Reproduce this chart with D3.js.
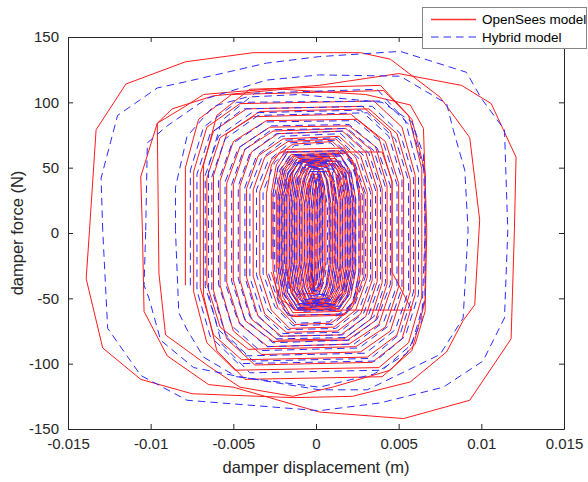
<!DOCTYPE html>
<html>
<head>
<meta charset="utf-8">
<script src="https://cdn.jsdelivr.net/npm/d3@7"></script>
<style>
  html, body { margin: 0; padding: 0; background: #fff; }
  svg { display: block; font-family: "Liberation Sans", Arial, sans-serif; }
</style>
</head>
<body>
<svg id="chart" width="588" height="482"></svg>
<script>
// Axis ticks
const xTicks = [-0.015, -0.01, -0.005, 0, 0.005, 0.01, 0.015];
const xTickLabels = ["-0.015", "-0.01", "-0.005", "0", "0.005", "0.01", "0.015"];
const yTicks = [-150, -100, -50, 0, 50, 100, 150];
const yTickLabels = ["-150", "-100", "-50", "0", "50", "100", "150"];

const seriesNames = ["OpenSees model", "Hybrid model"];

// Damper response, [displacement (m), force (N)]
// Large single cycles (closed loops)
const openseesOuterLoops = [
  [[-0.0137,2],[-0.0133,79],[-0.0115,114],[-0.0079,131],[-0.0038,138],[0.0027,138],[0.0045,133],[0.0075,104],[0.0093,73],[0.0099,10],
   [0.0096,-55],[0.0089,-67],[0.0079,-91],[0.0057,-114],[0.0022,-125],[-0.0014,-126],[-0.0075,-123],[-0.0106,-112],[-0.0129,-88],[-0.0139,-35],[-0.0137,2]],
  [[-0.0105,2],[-0.0106,43],[-0.0096,84],[-0.0079,97],[-0.0068,106],[-0.0050,108],[0.0002,113],[0.0050,122],[0.0088,113],[0.0106,99],[0.0121,58],[0.0120,2],
   [0.0118,-81],[0.0093,-128],[0.0053,-142],[0.0002,-137],[-0.0050,-118],[-0.0065,-116],[-0.0090,-94],[-0.0104,-60],[-0.0105,2]],
  [[-0.0095,-31],[-0.0096,84],[-0.0087,95],[-0.0062,105],[-0.0020,110],[0.0030,106],[0.0057,98],[0.0065,80],[0.0067,2],[0.0066,-60],[0.0060,-85],
   [0.0045,-105],[0.0010,-118],[-0.0014,-125],[-0.0046,-118],[-0.0066,-101],[-0.0091,-78],[-0.0095,-31]]
];

// Mid-amplitude cycles (continuous trace)
const openseesMid = [
  [-0.0079,-40],[-0.0079,50],[-0.0071,87],[-0.0051,106],[0.0041,109],[0.0058,87],[0.0066,47],
  [0.0066,-52],[0.0058,-90],[0.0040,-110],[-0.0043,-112],[-0.0060,-90],[-0.0068,-48],
  [-0.0068,52],[-0.0060,90],[-0.0040,110],[0.0039,113],[0.0056,90],[0.0064,49],
  [0.0064,-49],[0.0056,-84],[0.0038,-103],[-0.0049,-105],[-0.0066,-84],[-0.0074,-45],
  [-0.0074,47],[-0.0066,81],[-0.0046,99],[0.0035,101],[0.0052,81],[0.0060,44],
  [0.0060,-47],[0.0052,-81],[0.0034,-99],[-0.0037,-101],[-0.0054,-81],[-0.0062,-44],
  [-0.0062,44],[-0.0054,76],[-0.0034,93],[0.0032,95],[0.0049,76],[0.0057,41],
  [0.0057,-45],[0.0049,-78],[0.0031,-95],[-0.0045,-97],[-0.0062,-78],[-0.0070,-42],
  [-0.0070,45],[-0.0062,78],[-0.0042,95],[0.0028,97],[0.0045,78],[0.0053,42],
  [0.0053,-43],[0.0045,-75],[0.0027,-91],[-0.0033,-93],[-0.0050,-75],[-0.0058,-40],
  [-0.0058,40],[-0.0050,70],[-0.0030,86],[0.0025,87],[0.0042,70],[0.0050,38],
  [0.0050,-41],[0.0042,-72],[0.0024,-87],[-0.0041,-89],[-0.0058,-72],[-0.0066,-39],
  [-0.0066,42],[-0.0058,73],[-0.0038,89],[0.0021,91],[0.0038,73],[0.0046,39],
  [0.0046,-40],[0.0038,-70],[0.0020,-85],[-0.0029,-87],[-0.0046,-70],[-0.0054,-38],
  [-0.0054,38],[-0.0046,66],[-0.0028,81],[0.0020,82],[0.0036,66],[0.0043,36],
  [0.0043,-39],[0.0036,-67],[0.0019,-82],[-0.0026,-83],[-0.0043,-67],[-0.0050,-36],
  [-0.0050,37],[-0.0043,64],[-0.0026,78],[0.0018,80],[0.0033,64],[0.0040,34],
  [0.0040,-38],[0.0033,-66],[0.0017,-81],[-0.0023,-82],[-0.0039,-66],[-0.0046,-36],
  [-0.0046,36],[-0.0039,62],[-0.0023,76],[0.0016,78],[0.0030,62],[0.0037,34],
  [0.0037,-37],[0.0030,-64],[0.0015,-78],[-0.0021,-79],[-0.0035,-64],[-0.0042,-34],
  [-0.0042,34],[-0.0035,59],[-0.0020,72],[0.0014,74],[0.0027,59],[0.0034,32],
  [0.0034,-36],[0.0027,-62],[0.0013,-75],[-0.0018,-76],[-0.0031,-62],[-0.0038,-33],
  [-0.0038,33],[-0.0031,58],[-0.0017,70],[0.0012,72],[0.0024,58],[0.0031,31],
  [0.0031,-34],[0.0024,-59],[0.0011,-72],[-0.0016,-73],[-0.0027,-59],[-0.0034,-32],
  [-0.0034,32],[-0.0027,56],[-0.0014,68],[0.0010,70],[0.0022,56],[0.0029,30],
  [0.0029,-33],[0.0022,-57],[0.0009,-69],[-0.0013,-70],[-0.0023,-57],[-0.0030,-31],
  [-0.0030,30],[-0.0027,52],[-0.0022,62],[0.0040,62],[0.0046,40],[0.0046,-30],
  [0.0058,-59],[-0.0012,-59],[-0.0022,-50],[-0.0027,-30]
];

// Small-amplitude cycles (continuous trace)
const openseesCore = [
  [-0.0027,-20],[-0.0027,31],[-0.0024,52],[-0.0018,64],[0.0017,65],[0.0023,52],[0.0026,29],
  [0.0026,-30],[0.0023,-51],[0.0017,-63],[-0.0015,-64],[-0.0021,-51],[-0.0024,-28],
  [-0.0024,29],[-0.0021,49],[-0.0015,60],[0.0018,61],[0.0024,49],[0.0027,27],
  [0.0027,-30],[0.0024,-50],[0.0018,-62],[-0.0017,-63],[-0.0023,-50],[-0.0026,-28],
  [-0.0026,30],[-0.0023,50],[-0.0017,62],[0.0013,63],[0.0019,50],[0.0022,28],
  [0.0022,-28],[0.0019,-47],[0.0013,-58],[-0.0012,-59],[-0.0018,-47],[-0.0021,-26],
  [-0.0021,28],[-0.0018,47],[-0.0012,58],[0.0015,59],[0.0021,47],[0.0024,26],
  [0.0024,-29],[0.0021,-49],[0.0015,-60],[-0.0014,-61],[-0.0020,-49],[-0.0023,-27],
  [-0.0023,28],[-0.0020,48],[-0.0014,59],[0.0010,60],[0.0016,48],[0.0019,26],
  [0.0019,-27],[0.0016,-46],[0.0010,-56],[-0.0009,-57],[-0.0015,-46],[-0.0018,-25],
  [-0.0018,27],[-0.0015,46],[-0.0009,56],[0.0012,57],[0.0018,46],[0.0021,25],
  [0.0021,-27],[0.0018,-46],[0.0012,-57],[-0.0011,-58],[-0.0017,-46],[-0.0020,-26],
  [-0.0020,27],[-0.0017,46],[-0.0011,57],[0.0008,58],[0.0014,46],[0.0017,26],
  [0.0017,-26],[0.0015,-44],[0.0010,-55],[-0.0010,-55],[-0.0013,-44],[-0.0015,-24],
  [-0.0015,26],[-0.0013,44],[-0.0008,55],[0.0011,55],[0.0016,44],[0.0018,24],
  [0.0018,-27],[0.0016,-45],[0.0011,-55],[-0.0010,-56],[-0.0015,-45],[-0.0017,-25],
  [-0.0017,27],[-0.0015,45],[-0.0010,55],[0.0007,56],[0.0012,45],[0.0014,25],
  [0.0014,-25],[0.0012,-43],[0.0008,-53],[-0.0006,-53],[-0.0010,-43],[-0.0012,-24],
  [-0.0012,25],[-0.0010,43],[-0.0006,53],[0.0009,53],[0.0013,43],[0.0015,24],
  [0.0015,-26],[0.0013,-43],[0.0009,-54],[-0.0008,-54],[-0.0012,-43],[-0.0014,-24],
  [-0.0014,26],[-0.0012,43],[-0.0008,54],[0.0005,54],[0.0009,43],[0.0011,24],
  [0.0011,-24],[0.0009,-41],[0.0006,-51],[-0.0004,-51],[-0.0007,-41],[-0.0009,-23],
  [-0.0009,24],[-0.0007,41],[-0.0004,51],[0.0007,51],[0.0010,41],[0.0012,23],
  [0.0012,-25],[0.0010,-42],[0.0007,-52],[-0.0006,-52],[-0.0009,-42],[-0.0011,-23],
  [-0.0011,25],[-0.0009,42],[-0.0006,52],[0.0003,52],[0.0006,42],[0.0008,23],
  [0.0008,-23],[0.0006,-40],[0.0003,-49],[-0.0001,-49],[-0.0004,-40],[-0.0006,-22],
  [-0.0006,23],[-0.0004,40],[-0.0001,49],[0.0004,49],[0.0007,40],[0.0009,22],
  [0.0009,-24],[0.0007,-40],[0.0004,-50],[-0.0003,-50],[-0.0006,-40],[-0.0008,-22],
  [-0.0008,23],[-0.0006,40],[-0.0003,49],[0.0002,49],[0.0004,40],[0.0005,22],
  [0.0005,-22],[0.0004,-38],[0.0002,-47],[-0.0001,-47],[-0.0003,-38],[-0.0004,-21],
  [-0.0004,22],[-0.0003,36],[-0.0001,45],[0.0003,45],[0.0005,36],[0.0006,20],
  [0.0006,-22],[0.0004,-37],[0.0001,-46],[-0.0012,-47],[-0.0017,-37],[-0.0019,-21],
  [-0.0019,26],[-0.0016,44],[-0.0010,55],[0.0014,55],[0.0020,44],[0.0023,24],
  [0.0023,-28],[0.0020,-47],[0.0014,-58],[-0.0013,-59],[-0.0019,-47],[-0.0022,-26],
  [-0.0022,28],[-0.0019,48],[-0.0013,59],[0.0007,60],[0.0013,48],[0.0016,26],
  [0.0016,-26],[0.0014,-43],[0.0010,-54],[-0.0007,-54],[-0.0011,-43],[-0.0013,-24],
  [-0.0013,25],[-0.0011,42],[-0.0006,52],[0.0013,52],[0.0018,42],[0.0020,23],
  [0.0020,-27],[0.0017,-46],[0.0011,-56],[-0.0009,-57],[-0.0014,-46],[-0.0016,-25],
  [-0.0016,27],[-0.0014,46],[-0.0010,56],[0.0004,57],[0.0008,46],[0.0010,25],
  [0.0010,-24],[0.0008,-41],[0.0005,-51],[-0.0002,-51],[-0.0005,-41],[-0.0007,-23],
  [-0.0007,22],[-0.0005,38],[-0.0002,47],[0.0008,47],[0.0011,38],[0.0013,21],
  [0.0013,-25],[0.0011,-43],[0.0007,-53],[-0.0005,-53],[-0.0008,-43],[-0.0010,-24],
  [-0.0010,24],[-0.0008,40],[-0.0005,50],[0.0001,50],[0.0003,40],[0.0004,22],
  [0.0004,-21],[0.0003,-36],[0.0001,-44],[-0.0001,-44],[-0.0002,-36],[-0.0003,-20],
  [-0.0003,20],[-0.0002,34],[-0.0001,42],[0.0001,42],[0.0002,33],[0.0002,19],
  [0.0002,-19],[0.0001,-33],[0.0000,-40],[-0.0001,-40],[-0.0001,-30],[-0.0001,-18],
  [-0.0001,21],[0.0000,36],[0.0001,44],[0.0002,44],[0.0003,35],[0.0003,20],
  [0.0003,-21],[0.0002,-35],[0.0001,-43],[-0.0001,-43],[-0.0002,-34],[-0.0002,-19],
  [-0.0002,18],[-0.0001,31],[0.0000,38],[0.0001,30],[0.0001,17],
  [0.0001,-22],[0.0000,-37],[-0.0002,-46],[-0.0004,-37],[-0.0005,-21],
  [-0.0005,21],[-0.0004,36],[-0.0003,45],[-0.0001,45],[0.0000,35],[0.0000,20],
  [0.0000,-20],[-0.0001,-35],[-0.0002,-42],[-0.0003,-30],[-0.0003,0]
];

const hybridOuterLoops = [
  [[-0.0129,2],[-0.0130,42],[-0.0120,90],[-0.0096,111],[-0.0078,116],[-0.0030,130],[0.0002,135],[0.0051,139],[0.0091,123],[0.0100,103],[0.0114,79],[0.0116,2],
   [0.0114,-65],[0.0101,-98],[0.0077,-118],[0.0039,-130],[0.0002,-136],[-0.0078,-128],[-0.0106,-109],[-0.0126,-73],[-0.0129,2]],
  [[-0.0103,2],[-0.0102,69],[-0.0090,82],[-0.0066,103],[-0.0030,117],[0.0002,121],[0.0051,120],[0.0079,99],[0.0083,79],[0.0090,48],[0.0092,2],
   [0.0089,-65],[0.0075,-93],[0.0031,-120],[0.0002,-120],[-0.0046,-110],[-0.0074,-103],[-0.0094,-82],[-0.0101,-50],[-0.0104,-40],[-0.0103,2]],
  [[-0.0085,2],[-0.0085,35],[-0.0078,74],[-0.0062,97],[-0.0042,104],[-0.0010,106],[0.0040,100],[0.0058,85],[0.0065,60],[0.0066,2],
   [0.0064,-67],[0.0055,-92],[0.0035,-108],[0.0002,-118],[-0.0048,-110],[-0.0068,-95],[-0.0078,-74],[-0.0083,-61],[-0.0085,2]]
];

const hybridMid = [
  [-0.0076,-40],[-0.0076,48],[-0.0068,81],[-0.0048,100],[0.0041,101],[0.0058,81],[0.0066,45],
  [0.0066,-50],[0.0058,-85],[0.0040,-105],[-0.0040,-107],[-0.0057,-85],[-0.0065,-47],
  [-0.0065,51],[-0.0057,86],[-0.0037,107],[0.0037,110],[0.0054,86],[0.0062,47],
  [0.0062,-47],[0.0054,-79],[0.0036,-98],[-0.0047,-100],[-0.0064,-79],[-0.0072,-44],
  [-0.0072,45],[-0.0064,76],[-0.0044,95],[0.0034,97],[0.0051,76],[0.0059,42],
  [0.0059,-45],[0.0051,-77],[0.0033,-96],[-0.0038,-98],[-0.0055,-77],[-0.0063,-43],
  [-0.0063,43],[-0.0055,72],[-0.0035,90],[0.0031,92],[0.0048,72],[0.0056,40],
  [0.0056,-44],[0.0048,-74],[0.0030,-92],[-0.0042,-94],[-0.0059,-74],[-0.0067,-41],
  [-0.0067,44],[-0.0059,74],[-0.0039,92],[0.0027,94],[0.0044,74],[0.0052,41],
  [0.0052,-42],[0.0044,-71],[0.0026,-88],[-0.0034,-90],[-0.0051,-71],[-0.0059,-39],
  [-0.0059,40],[-0.0051,68],[-0.0031,85],[0.0024,86],[0.0041,68],[0.0049,37],
  [0.0049,-40],[0.0041,-68],[0.0023,-85],[-0.0030,-87],[-0.0047,-68],[-0.0055,-38],
  [-0.0055,39],[-0.0047,65],[-0.0027,82],[0.0020,83],[0.0037,65],[0.0045,36],
  [0.0045,-39],[0.0037,-66],[0.0020,-82],[-0.0026,-84],[-0.0043,-66],[-0.0051,-37],
  [-0.0051,37],[-0.0044,63],[-0.0027,79],[0.0019,80],[0.0035,63],[0.0042,35],
  [0.0042,-38],[0.0035,-64],[0.0018,-80],[-0.0024,-81],[-0.0040,-64],[-0.0047,-35],
  [-0.0047,36],[-0.0040,61],[-0.0024,76],[0.0017,78],[0.0032,61],[0.0039,34],
  [0.0039,-37],[0.0032,-62],[0.0016,-78],[-0.0022,-79],[-0.0036,-62],[-0.0043,-34],
  [-0.0043,35],[-0.0036,59],[-0.0021,74],[0.0015,76],[0.0029,59],[0.0036,33],
  [0.0036,-36],[0.0029,-61],[0.0014,-76],[-0.0020,-77],[-0.0033,-61],[-0.0040,-34],
  [-0.0040,34],[-0.0033,57],[-0.0019,71],[0.0013,73],[0.0026,57],[0.0033,31],
  [0.0033,-35],[0.0026,-59],[0.0012,-73],[-0.0017,-74],[-0.0029,-59],[-0.0036,-32],
  [-0.0036,33],[-0.0029,55],[-0.0016,69],[0.0011,71],[0.0023,55],[0.0030,30],
  [0.0030,-33],[0.0023,-56],[0.0010,-70],[-0.0014,-71],[-0.0025,-56],[-0.0032,-31],
  [-0.0032,32],[-0.0025,54],[-0.0013,67],[0.0009,69],[0.0021,54],[0.0028,29],
  [0.0028,-32],[0.0021,-55],[0.0008,-68],[-0.0012,-69],[-0.0022,-55],[-0.0029,-30]
];

const hybridCore = [
  [-0.0026,-20],[-0.0026,30],[-0.0023,50],[-0.0017,62],[0.0017,63],[0.0023,50],[0.0026,28],
  [0.0026,-30],[0.0023,-50],[0.0017,-62],[-0.0016,-63],[-0.0022,-50],[-0.0025,-28],
  [-0.0025,28],[-0.0022,48],[-0.0016,59],[0.0014,60],[0.0020,48],[0.0023,26],
  [0.0023,-28],[0.0020,-47],[0.0014,-58],[-0.0013,-59],[-0.0019,-47],[-0.0022,-26],
  [-0.0022,28],[-0.0019,47],[-0.0013,58],[0.0015,59],[0.0021,47],[0.0024,26],
  [0.0024,-27],[0.0021,-46],[0.0015,-56],[-0.0011,-57],[-0.0017,-46],[-0.0020,-25],
  [-0.0020,27],[-0.0017,45],[-0.0011,55],[0.0012,56],[0.0018,45],[0.0021,25],
  [0.0021,-26],[0.0018,-44],[0.0012,-55],[-0.0012,-55],[-0.0018,-44],[-0.0021,-24],
  [-0.0021,26],[-0.0018,43],[-0.0012,54],[0.0009,54],[0.0015,43],[0.0018,24],
  [0.0018,-26],[0.0016,-43],[0.0011,-54],[-0.0011,-54],[-0.0016,-43],[-0.0018,-24],
  [-0.0018,25],[-0.0016,43],[-0.0011,53],[0.0012,53],[0.0017,43],[0.0019,24],
  [0.0019,-25],[0.0017,-42],[0.0012,-52],[-0.0009,-52],[-0.0014,-42],[-0.0016,-23],
  [-0.0016,25],[-0.0014,42],[-0.0009,52],[0.0009,52],[0.0014,42],[0.0016,23],
  [0.0016,-24],[0.0014,-41],[0.0009,-51],[-0.0007,-51],[-0.0012,-41],[-0.0014,-23],
  [-0.0014,24],[-0.0012,40],[-0.0008,50],[0.0007,50],[0.0011,40],[0.0013,22],
  [0.0013,-24],[0.0011,-40],[0.0007,-50],[-0.0006,-50],[-0.0010,-40],[-0.0012,-22],
  [-0.0012,23],[-0.0010,40],[-0.0006,49],[0.0005,49],[0.0009,40],[0.0011,22],
  [0.0011,-23],[0.0009,-39],[0.0006,-48],[-0.0005,-48],[-0.0008,-39],[-0.0010,-21],
  [-0.0010,23],[-0.0008,38],[-0.0005,47],[0.0004,47],[0.0007,38],[0.0009,21],
  [0.0009,-23],[0.0007,-38],[0.0004,-47],[-0.0002,-47],[-0.0005,-38],[-0.0007,-21],
  [-0.0007,22],[-0.0005,36],[-0.0002,45],[0.0002,45],[0.0005,36],[0.0007,20],
  [0.0007,-21],[0.0005,-36],[0.0003,-44],[-0.0002,-44],[-0.0004,-36],[-0.0005,-20],
  [-0.0005,20],[-0.0004,34],[-0.0002,42],[0.0002,42],[0.0003,34],[0.0004,19],
  [0.0004,-27],[0.0002,-46],[-0.0003,-57],[-0.0014,-58],[-0.0020,-46],[-0.0023,-26],
  [-0.0023,29],[-0.0020,49],[-0.0014,60],[0.0011,61],[0.0017,49],[0.0020,27],
  [0.0020,-26],[0.0018,-44],[0.0013,-55],[-0.0008,-55],[-0.0013,-44],[-0.0015,-24],
  [-0.0015,26],[-0.0013,44],[-0.0008,55],[0.0015,55],[0.0020,44],[0.0022,24],
  [0.0022,-28],[0.0019,-48],[0.0013,-59],[-0.0010,-60],[-0.0016,-48],[-0.0019,-26],
  [-0.0019,27],[-0.0017,46],[-0.0012,56],[0.0005,57],[0.0010,46],[0.0012,25],
  [0.0012,-25],[0.0010,-42],[0.0006,-52],[-0.0003,-52],[-0.0007,-42],[-0.0009,-23],
  [-0.0009,23],[-0.0007,40],[-0.0003,49],[0.0010,49],[0.0013,40],[0.0015,22],
  [0.0015,-22],[0.0013,-38],[0.0009,-47],[0.0000,-47],[-0.0002,-38],[-0.0004,-21],
  [-0.0004,22],[-0.0003,38],[-0.0001,47],[0.0005,47],[0.0007,38],[0.0008,21],
  [0.0008,-25],[0.0006,-43],[0.0003,-53],[-0.0008,-53],[-0.0011,-43],[-0.0013,-24],
  [-0.0013,24],[-0.0011,41],[-0.0008,51],[0.0000,51],[0.0002,41],[0.0003,23],
  [0.0003,-20],[0.0002,-34],[0.0001,-42],[-0.0001,-42],[-0.0002,-33],[-0.0002,-19],
  [-0.0002,19],[-0.0001,33],[0.0000,41],[0.0001,41],[0.0002,33],[0.0002,18],
  [0.0002,-18],[0.0001,-31],[0.0001,-38],[0.0000,-38],[0.0000,-30],[0.0000,-17],
  [0.0000,20],[0.0001,35],[0.0002,44],[0.0003,44],[0.0004,35],[0.0004,20],
  [0.0004,-21],[0.0003,-36],[0.0001,-45],[-0.0001,-45],[-0.0002,-36],[-0.0003,-21],
  [-0.0003,19],[-0.0002,32],[-0.0001,40],[0.0000,40],[0.0001,32],[0.0001,0]
];

// Layout
const plot = { left: 68, right: 564, top: 37, bottom: 429 };
const axisColor = "#262626";
const redColor = "#ff1a1a";
const blueColor = "#2b2bff";
const dashPattern = "7.5,5";

const svg = d3.select("#chart");

const x = d3.scaleLinear().domain([-0.015, 0.015]).range([plot.left, plot.right]);
const y = d3.scaleLinear().domain([-150, 150]).range([plot.bottom, plot.top]);

svg.append("defs").append("clipPath").attr("id", "plotClip")
  .append("rect")
  .attr("x", plot.left).attr("y", plot.top)
  .attr("width", plot.right - plot.left).attr("height", plot.bottom - plot.top);

const line = d3.line().x(d => x(d[0])).y(d => y(d[1]));
const dataG = svg.append("g").attr("clip-path", "url(#plotClip)");

function drawTrace(pts, color, dash) {
  const p = dataG.append("path").attr("d", line(pts))
    .attr("fill", "none").attr("stroke", color).attr("stroke-width", 1)
    .attr("stroke-linejoin", "round");
  if (dash) p.attr("stroke-dasharray", dash);
}

openseesOuterLoops.forEach(loop => drawTrace(loop, redColor));
drawTrace(openseesMid, redColor);
drawTrace(openseesCore, redColor);
hybridOuterLoops.forEach(loop => drawTrace(loop, blueColor, dashPattern));
drawTrace(hybridMid, blueColor, dashPattern);
drawTrace(hybridCore, blueColor, dashPattern);

// Axes box with inward ticks on all four sides
const tickLen = 5;
const tickFmtX = d => xTickLabels[xTicks.indexOf(d)];
const tickFmtY = d => yTickLabels[yTicks.indexOf(d)];

function styleAxis(g) {
  g.selectAll("path.domain").attr("stroke", axisColor).attr("stroke-width", 1);
  g.selectAll(".tick line").attr("stroke", axisColor).attr("stroke-width", 1);
  g.selectAll(".tick text").attr("fill", axisColor)
    .style("font-family", "'Liberation Sans', Arial, sans-serif").style("font-size", "15px");
}

svg.append("g").attr("transform", `translate(0,${plot.bottom})`)
  .call(d3.axisBottom(x).tickValues(xTicks).tickFormat(tickFmtX)
    .tickSizeInner(-tickLen).tickSizeOuter(0).tickPadding(9))
  .call(styleAxis);
svg.append("g").attr("transform", `translate(0,${plot.top})`)
  .call(d3.axisTop(x).tickValues(xTicks).tickFormat("")
    .tickSizeInner(-tickLen).tickSizeOuter(0))
  .call(styleAxis);
svg.append("g").attr("transform", `translate(${plot.left},0)`)
  .call(d3.axisLeft(y).tickValues(yTicks).tickFormat(tickFmtY)
    .tickSizeInner(-tickLen).tickSizeOuter(0).tickPadding(9))
  .call(styleAxis);
svg.append("g").attr("transform", `translate(${plot.right},0)`)
  .call(d3.axisRight(y).tickValues(yTicks).tickFormat("")
    .tickSizeInner(-tickLen).tickSizeOuter(0))
  .call(styleAxis);

// Axis titles
svg.append("text")
  .attr("x", (plot.left + plot.right) / 2).attr("y", 473)
  .attr("text-anchor", "middle").attr("fill", axisColor)
  .style("font-size", "16.5px")
  .text("damper displacement (m)");
svg.append("text")
  .attr("transform", `translate(23,${(plot.top + plot.bottom) / 2}) rotate(-90)`)
  .attr("text-anchor", "middle").attr("fill", axisColor)
  .style("font-size", "16.5px")
  .text("damper force (N)");

// Legend
const lg = svg.append("g");
lg.append("rect")
  .attr("x", 422.5).attr("y", 7.5).attr("width", 164).attr("height", 41)
  .attr("fill", "#fff").attr("stroke", "#858585").attr("stroke-width", 1);

lg.append("path")
  .attr("d", "M431,19.5H476")
  .attr("fill", "none").attr("stroke", "#ff3030").attr("stroke-width", 1.4);
lg.append("text")
  .attr("x", 482).attr("y", 19.5).attr("dy", "0.35em")
  .attr("fill", "#000").style("font-size", "13.5px")
  .text(seriesNames[0]);

lg.append("path")
  .attr("d", "M431,37H476")
  .attr("fill", "none").attr("stroke", blueColor).attr("stroke-width", 1)
  .attr("stroke-dasharray", dashPattern);
lg.append("text")
  .attr("x", 482).attr("y", 37).attr("dy", "0.35em")
  .attr("fill", "#000").style("font-size", "13.5px")
  .text(seriesNames[1]);
</script>
</body>
</html>
